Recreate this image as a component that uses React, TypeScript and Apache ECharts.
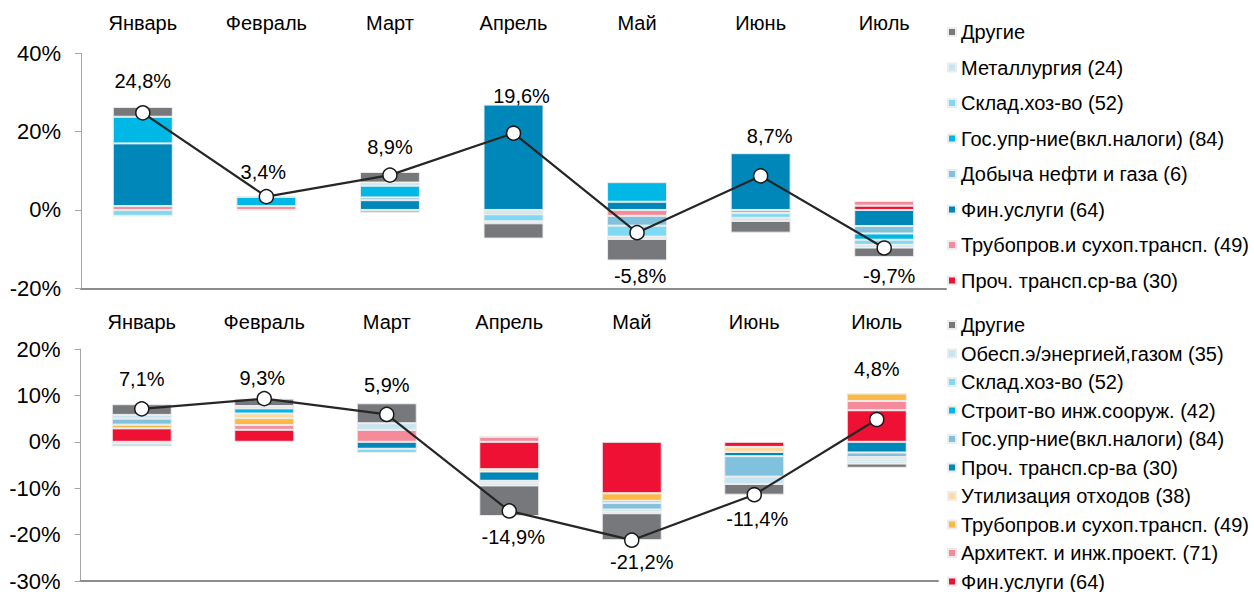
import React, { useEffect, useRef } from 'react';
import * as echarts from 'echarts';

// ---------- data ----------
const months = ['Январь', 'Февраль', 'Март', 'Апрель', 'Май', 'Июнь', 'Июль'];

// Top panel (stack order from zero outward)
const topNames = [
  'Проч. трансп.ср-ва (30)',
  'Трубопров.и сухоп.трансп. (49)',
  'Фин.услуги (64)',
  'Добыча нефти и газа (6)',
  'Гос.упр-ние(вкл.налоги) (84)',
  'Склад.хоз-во (52)',
  'Металлургия (24)',
  'Другие',
];
const topProchTransp = [0, 0, 0, 0, 0, 0, 1.1];
const topTruboprov = [1.0, 1.0, 0, 0, -1.5, 0, 1.2];
const topFinUslugi = [16.0, 0, 2.5, 26.9, 2.1, 14.5, -4.1];
const topDobycha = [0, 0, 0.7, -0.6, -2.5, -0.8, -1.9];
const topGosUpr = [6.8, 2.4, 3.0, -0.5, 5.0, 0, -1.6];
const topSklad = [-1.5, 0, -0.8, -1.8, -2.8, -1.2, -1.3];
const topMetallurgiya = [0, 0, 0.8, -0.5, -0.6, -0.8, -0.7];
const topDrugie = [2.5, 0, 2.7, -3.9, -5.5, -3.0, -2.4];
const topTotal = [24.8, 3.4, 8.9, 19.6, -5.8, 8.7, -9.7];

// Bottom panel (stack order from zero outward)
const botNames = [
  'Фин.услуги (64)',
  'Архитект. и инж.проект. (71)',
  'Трубопров.и сухоп.трансп. (49)',
  'Утилизация отходов (38)',
  'Проч. трансп.ср-ва (30)',
  'Гос.упр-ние(вкл.налоги) (84)',
  'Строит-во инж.сооруж. (42)',
  'Склад.хоз-во (52)',
  'Обесп.э/энергией,газом (35)',
  'Другие',
];
const botFinUslugi = [2.9, 2.6, 0, -5.9, -11.1, -1.1, 6.8];
const botArhitekt = [0, 1.0, 2.6, 1.1, 0, 0, 2.0];
const botTruboprov = [0.8, 1.5, 0, 0, -1.6, 0, 1.6];
const botUtilizaciya = [-0.4, 1.0, 0, -0.5, 0, -1.1, 0];
const botProchTransp = [0, 0, -1.5, -2.0, -0.5, -0.9, -2.3];
const botGosUpr = [1.3, 0, 0, 0, -1.4, -4.4, -1.0];
const botStroit = [0, 1.1, 0, 0, 0, 0, -0.4];
const botSklad = [-0.6, 0, -0.9, -0.4, -0.4, 0, -0.5];
const botObesp = [0.8, 0.5, 1.4, -0.6, -0.4, -1.6, -0.5];
const botDrugie = [2.3, 1.6, 4.3, -6.6, -5.8, -2.3, -0.9];
const botTotal = [7.1, 9.3, 5.9, -14.9, -21.2, -11.4, 4.8];

// ---------- styles ----------
const FONT = '"Liberation Sans", Arial, sans-serif';
const C = {
  gray: '#77787b',
  pale: '#c6e4f1',
  lightCyan: '#7fd9f2',
  cyan: '#00b8e6',
  mid: '#80c1dd',
  dark: '#0087b9',
  pink: '#f58a9b',
  red: '#ee1133',
  paleOrange: '#ffd9a0',
  orange: '#fdb843',
};
const topColors = [C.red, C.pink, C.dark, C.mid, C.cyan, C.lightCyan, C.pale, C.gray];
const botColors = [C.red, C.pink, C.orange, C.paleOrange, C.dark, C.mid, C.cyan, C.lightCyan, C.pale, C.gray];
const topLabelDx = [0, -3, 0, 8, 3, 9, 5];
const topLabelDy = [-32, -25, -28, -37, 43, -40, 28];
const botLabelDx = [0, -2, 0, 4, 10, 3, 0];
const botLabelDy = [-30, -21, -29, 26, 22, 24, -51];
const BOT_PFX = 'b|';

const fmt = (v: number) => v.toFixed(1).replace('.', ',') + '%';

function bars(names: string[], values: number[][], colors: string[], xi: number, yi: number, stack: string, pfx: string) {
  return names.map((n, i) => ({
    type: 'bar',
    name: pfx + n,
    stack,
    xAxisIndex: xi,
    yAxisIndex: yi,
    barWidth: 60,
    data: values[i],
    itemStyle: { color: colors[i], borderColor: '#ececec', borderWidth: 1 },
    emphasis: { disabled: true },
    z: 2,
  }));
}

function totalLine(name: string, data: number[], dx: number[], dy: number[], xi: number, yi: number) {
  return {
    type: 'line',
    name,
    xAxisIndex: xi,
    yAxisIndex: yi,
    data: data.map((v, i) => ({ value: v, label: { offset: [dx[i], dy[i]] } })),
    symbol: 'circle',
    symbolSize: 14,
    itemStyle: { color: '#ffffff', borderColor: '#1a1a1a', borderWidth: 1.5 },
    lineStyle: { color: '#262626', width: 2.2 },
    label: {
      show: true,
      position: 'inside',
      formatter: (p: any) => fmt(p.value),
      fontSize: 20,
      color: '#000',
      fontFamily: FONT,
    },
    emphasis: { disabled: true },
    z: 5,
  };
}

export default function App() {
  const ref = useRef<HTMLDivElement>(null);
  useEffect(() => {
    if (!ref.current) return;
    const chart = echarts.init(ref.current, undefined, { renderer: 'svg' });
    const topValues = [topProchTransp, topTruboprov, topFinUslugi, topDobycha, topGosUpr, topSklad, topMetallurgiya, topDrugie];
    const botValues = [botFinUslugi, botArhitekt, botTruboprov, botUtilizaciya, botProchTransp, botGosUpr, botStroit, botSklad, botObesp, botDrugie];

    const monthAxis = (gi: number, margin: number) => ({
      type: 'category',
      gridIndex: gi,
      position: 'top',
      data: months,
      axisLine: { show: false },
      axisTick: { show: false },
      axisLabel: { fontSize: 20, color: '#000', fontFamily: FONT, margin },
    });
    const zeroAxis = (gi: number) => ({
      type: 'category',
      gridIndex: gi,
      position: 'bottom',
      data: months,
      axisLine: { show: true, onZero: true, lineStyle: { color: '#8c8c8c', width: 2 } },
      axisTick: { show: false },
      axisLabel: { show: false },
    });
    const valAxis = (gi: number, min: number, max: number, interval: number) => ({
      type: 'value',
      gridIndex: gi,
      min,
      max,
      interval,
      axisLine: { show: true, lineStyle: { color: '#a6a6a6', width: 1 } },
      axisTick: { show: true, inside: false, length: 6, lineStyle: { color: '#a6a6a6' } },
      splitLine: { show: false },
      axisLabel: { formatter: '{value}%', fontSize: 22, color: '#000', fontFamily: FONT, margin: 20 },
    });
    const legendBase = {
      orient: 'vertical',
      left: 947,
      itemWidth: 8,
      itemHeight: 8,
      icon: 'rect',
      padding: 0,
      selectedMode: false,
      textStyle: { fontSize: 20, lineHeight: 20, color: '#000', fontFamily: FONT },
    };

    chart.setOption({
      animation: false,
      backgroundColor: '#ffffff',
      grid: [
        { left: 81, right: 308, top: 53.3, height: 235 },
        { left: 80.5, right: 316, top: 349, height: 236 },
      ],
      xAxis: [monthAxis(0, 20), zeroAxis(0), monthAxis(1, 17), zeroAxis(1)],
      yAxis: [valAxis(0, -20, 40, 20), valAxis(1, -30, 20, 10)],
      legend: [
        { ...legendBase, top: 22, itemGap: 15.5, data: [...topNames].reverse() },
        {
          ...legendBase,
          top: 315,
          itemGap: 8.5,
          data: [...botNames].reverse().map((n) => BOT_PFX + n),
          formatter: (n: string) => n.slice(BOT_PFX.length),
        },
      ],
      series: [
        ...bars(topNames, topValues, topColors, 0, 0, 'top', ''),
        totalLine('Итого1', topTotal, topLabelDx, topLabelDy, 0, 0),
        ...bars(botNames, botValues, botColors, 2, 1, 'bot', BOT_PFX),
        totalLine('Итого2', botTotal, botLabelDx, botLabelDy, 2, 1),
      ],
    });
    return () => chart.dispose();
  }, []);
  return <div ref={ref} style={{ position: 'fixed', left: 0, top: 0, width: 1254, height: 592 }} />;
}
